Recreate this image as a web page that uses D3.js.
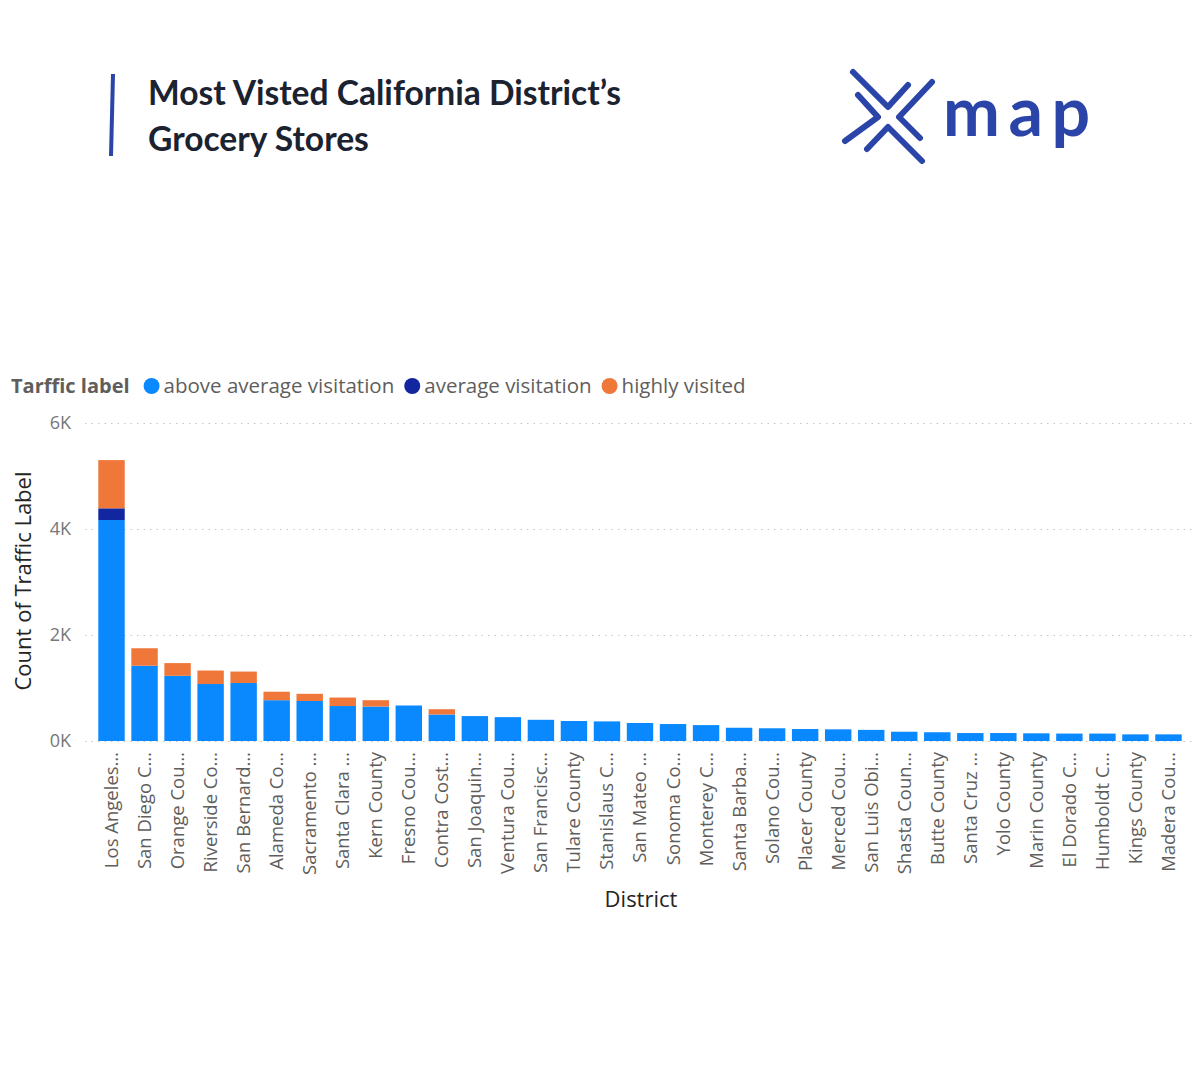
<!DOCTYPE html>
<html>
<head>
<meta charset="utf-8">
<script src="https://cdn.jsdelivr.net/npm/d3@7"></script>
<style>
  html, body { margin: 0; padding: 0; background: #ffffff; }
  svg { display: block; }
</style>
</head>
<body>
<svg id="chart" width="1200" height="1080"></svg>
<script>
// ---- Data ----
const districts = [
  "Los Angeles…", "San Diego C…", "Orange Cou…", "Riverside Co…", "San Bernard…",
  "Alameda Co…", "Sacramento …", "Santa Clara …", "Kern County", "Fresno Cou…",
  "Contra Cost…", "San Joaquin…", "Ventura Cou…", "San Francisc…", "Tulare County",
  "Stanislaus C…", "San Mateo …", "Sonoma Co…", "Monterey C…", "Santa Barba…",
  "Solano Cou…", "Placer County", "Merced Cou…", "San Luis Obi…", "Shasta Coun…",
  "Butte County", "Santa Cruz …", "Yolo County", "Marin County", "El Dorado C…",
  "Humboldt C…", "Kings County", "Madera Cou…"
];
const aboveAverage = [4170, 1420, 1230, 1075, 1095, 770, 755, 660, 650, 670,
  500, 470, 450, 400, 377, 370, 340, 320, 300, 250,
  240, 226, 220, 210, 175, 165, 150, 150, 145, 140,
  140, 125, 125];
const averageVisit = [220, 0, 0, 0, 0, 0, 0, 0, 0, 0,
  0, 0, 0, 0, 0, 0, 0, 0, 0, 0,
  0, 0, 0, 0, 0, 0, 0, 0, 0, 0,
  0, 0, 0];
const highlyVisited = [910, 330, 240, 255, 215, 160, 135, 160, 120, 0,
  100, 0, 0, 0, 0, 0, 0, 0, 0, 0,
  0, 0, 0, 0, 0, 0, 0, 0, 0, 0,
  0, 0, 0];
const seriesNames = ["above average visitation", "average visitation", "highly visited"];
const seriesColors = ["#0A89FF", "#1226A0", "#F0773A"];
const yTicks = [0, 2000, 4000, 6000];

// ---- Build table ----
const table = districts.map((d, i) => ({
  district: d,
  "above average visitation": aboveAverage[i],
  "average visitation": averageVisit[i],
  "highly visited": highlyVisited[i]
}));
const stacked = d3.stack().keys(seriesNames)(table);

const svg = d3.select("#chart");
const font = "'Open Sans', 'Noto Sans', sans-serif";

// ---- Header ----
svg.append("line")
  .attr("x1", 113).attr("y1", 74).attr("x2", 111).attr("y2", 156)
  .attr("stroke", "#2B44A8").attr("stroke-width", 4);

svg.append("text").attr("x", 148).attr("y", 105)
  .attr("font-family", "Lato, sans-serif").attr("font-weight", 700)
  .attr("font-size", 33.6).attr("fill", "#1B2230")
  .text("Most Visted California District’s");
svg.append("text").attr("x", 148).attr("y", 151)
  .attr("font-family", "Lato, sans-serif").attr("font-weight", 700)
  .attr("font-size", 33.6).attr("fill", "#1B2230")
  .text("Grocery Stores");

// Logo
const logo = svg.append("g").attr("fill", "none").attr("stroke", "#2B44A8")
  .attr("stroke-width", 6).attr("stroke-linecap", "round").attr("stroke-linejoin", "round");
const chevrons = [
  [[853, 72], [888, 107], [908, 85]],
  [[867, 149], [888, 127], [922, 161]],
  [[858, 95], [878, 117], [845, 141]],
  [[932, 82], [899, 117], [920, 138]]
];
chevrons.forEach(p => logo.append("path").attr("d", d3.line()(p)));
svg.append("text").attr("x", 943).attr("y", 136)
  .attr("font-family", "Lato, sans-serif").attr("font-weight", 700)
  .attr("font-size", 68).attr("fill", "#2B44A8")
  .attr("textLength", 147).attr("lengthAdjust", "spacing")
  .text("map");

// ---- Legend ----
const legend = svg.append("g");
const legendTitle = legend.append("text").attr("x", 11).attr("y", 393)
  .attr("font-family", font).attr("font-weight", 700).attr("font-size", 20)
  .attr("fill", "#605E5C").text("Tarffic label");
let cx = 11 + legendTitle.node().getComputedTextLength() + 22;
seriesNames.forEach((s, i) => {
  legend.append("circle").attr("cx", cx).attr("cy", 386).attr("r", 8).attr("fill", seriesColors[i]);
  const t = legend.append("text").attr("x", cx + 12).attr("y", 393)
    .attr("font-family", font).attr("font-size", 20.5).attr("fill", "#605E5C").text(s);
  cx += 12 + t.node().getComputedTextLength() + 18;
});

// ---- Scales ----
const x = d3.scaleBand().domain(districts).range([95, 1185]).paddingInner(0.2).paddingOuter(0.1);
const y = d3.scaleLinear().domain([0, 6000]).range([741, 423]);

// gridlines
const yAxis = svg.append("g").attr("transform", "translate(85,0)")
  .call(d3.axisLeft(y).tickValues(yTicks).tickFormat(d => (d / 1000) + "K").tickSize(-1107).tickPadding(14));
yAxis.select(".domain").remove();
yAxis.selectAll(".tick line").attr("stroke", "#C8C6C4").attr("stroke-dasharray", "1.5,5").attr("stroke-width", 1.2);
yAxis.selectAll(".tick text").attr("font-family", font).attr("font-size", 18).attr("fill", "#777");

// bars
svg.append("g").selectAll("g").data(stacked).join("g")
  .attr("fill", (d, i) => seriesColors[i])
  .selectAll("rect").data(d => d).join("rect")
  .attr("x", d => x(d.data.district))
  .attr("width", x.bandwidth())
  .attr("y", d => y(d[1]))
  .attr("height", d => Math.max(0, y(d[0]) - y(d[1])));

// x axis labels
const xAxis = svg.append("g").attr("transform", "translate(0,741)")
  .call(d3.axisBottom(x).tickSize(0).tickPadding(0));
xAxis.select(".domain").remove();
xAxis.selectAll(".tick text")
  .attr("font-family", font).attr("font-size", 18.5).attr("fill", "#605E5C")
  .attr("text-anchor", "end")
  .attr("transform", "rotate(-90)")
  .attr("x", -11).attr("y", 0).attr("dy", "0.35em");

// axis titles
svg.append("text").attr("transform", "translate(31,581) rotate(-90)")
  .attr("text-anchor", "middle").attr("font-family", font).attr("font-size", 22)
  .attr("fill", "#252423").text("Count of Traffic Label");
svg.append("text").attr("x", 641).attr("y", 907)
  .attr("text-anchor", "middle").attr("font-family", font).attr("font-size", 22)
  .attr("fill", "#252423").text("District");
</script>
</body>
</html>
